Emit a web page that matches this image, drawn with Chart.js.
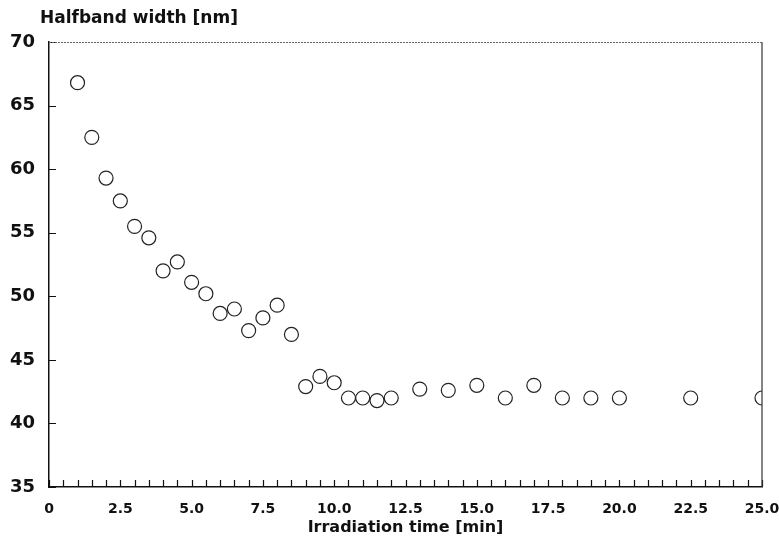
<!DOCTYPE html>
<html>
<head>
<meta charset="utf-8">
<script src="https://cdn.jsdelivr.net/npm/chart.js@4/dist/chart.umd.min.js"></script>
<style>
  html, body { margin: 0; padding: 0; background: #fff; }
  #wrap { width: 779px; height: 546px; }
</style>
</head>
<body>
<div id="wrap"><canvas id="chart" width="779" height="546"></canvas></div>
<script>
// irradiation time [min]
const times = [1, 1.5, 2, 2.5, 3, 3.5, 4, 4.5, 5, 5.5, 6, 6.5, 7, 7.5, 8, 8.5,
  9, 9.5, 10, 10.5, 11, 11.5, 12, 13, 14, 15, 16, 17, 18, 19, 20, 22.5, 25];
// halfband width [nm]
const widths = [66.8, 62.5, 59.3, 57.5, 55.5, 54.6, 52.0, 52.7, 51.1, 50.2, 48.65, 49.0,
  47.3, 48.3, 49.3, 47.0, 42.9, 43.7, 43.2, 42.0, 42.0, 41.8, 42.0, 42.7, 42.6, 43.0,
  42.0, 43.0, 42.0, 42.0, 42.0, 42.0, 42.0];
const yTitle = "Halfband width [nm]";
const xTitle = "Irradiation time [min]";

const ink = "#111";
const fontFamily = "'DejaVu Sans', Verdana, sans-serif";

// inward tick marks, top/right frame and the y-axis caption
const framePlugin = {
  id: "frame",
  afterDraw(chart) {
    const { ctx, chartArea: a, scales } = chart;
    ctx.save();
    ctx.strokeStyle = ink;
    ctx.lineWidth = 1.2;
    ctx.beginPath();
    scales.x.ticks.forEach((t) => {
      const px = Math.round(scales.x.getPixelForValue(t.value)) + 0.5;
      ctx.moveTo(px, a.bottom);
      ctx.lineTo(px, a.bottom - 7);
    });
    scales.y.ticks.forEach((t) => {
      const py = Math.round(scales.y.getPixelForValue(t.value)) + 0.5;
      ctx.moveTo(a.left, py);
      ctx.lineTo(a.left + 7, py);
    });
    ctx.stroke();

    // right border
    ctx.strokeStyle = "#333";
    ctx.beginPath();
    ctx.moveTo(a.right, a.top);
    ctx.lineTo(a.right, a.bottom);
    ctx.stroke();

    // top border, faint and dotted
    ctx.strokeStyle = "#666";
    ctx.lineWidth = 1;
    ctx.setLineDash([2, 1]);
    ctx.beginPath();
    ctx.moveTo(a.left, a.top + 0.5);
    ctx.lineTo(a.right, a.top + 0.5);
    ctx.stroke();
    ctx.setLineDash([]);

    ctx.fillStyle = ink;
    ctx.font = "bold 17px " + fontFamily;
    ctx.textBaseline = "middle";
    ctx.textAlign = "left";
    ctx.fillText(yTitle, 40, 19);
    ctx.restore();
  },
};

new Chart(document.getElementById("chart"), {
  type: "scatter",
  data: {
    datasets: [
      {
        data: times.map((t, i) => ({ x: t, y: widths[i] })),
        pointRadius: 7,
        pointHoverRadius: 7,
        pointBorderWidth: 1.2,
        pointBorderColor: "#222",
        pointBackgroundColor: "rgba(255,255,255,0)",
      },
    ],
  },
  options: {
    responsive: false,
    animation: false,
    layout: { padding: { top: 42, right: 17, left: 0, bottom: 0 } },
    plugins: {
      legend: { display: false },
      tooltip: { enabled: false },
    },
    scales: {
      x: {
        type: "linear",
        min: 0,
        max: 25,
        afterFit: (scale) => {
          scale.height = 59;
          scale.paddingLeft = 0;
          scale.paddingRight = 0;
        },
        grid: { display: false },
        border: { display: true, color: ink, width: 1.5 },
        ticks: {
          stepSize: 0.5,
          autoSkip: false,
          maxRotation: 0,
          padding: 6,
          color: ink,
          font: { family: fontFamily, size: 14, weight: "bold" },
          callback: (v) => {
            if (Math.abs(v / 2.5 - Math.round(v / 2.5)) > 1e-6) return "";
            return v === 0 ? "0" : v.toFixed(1);
          },
        },
        title: {
          display: true,
          text: xTitle,
          color: ink,
          padding: { top: 0, bottom: 9 },
          font: { family: fontFamily, size: 16, weight: "bold" },
        },
      },
      y: {
        min: 35,
        max: 70,
        afterFit: (scale) => { scale.width = 49; },
        grid: { display: false },
        border: { display: true, color: ink, width: 1.5 },
        ticks: {
          stepSize: 5,
          padding: 6,
          color: ink,
          font: { family: fontFamily, size: 18, weight: "bold" },
        },
      },
    },
  },
  plugins: [framePlugin],
});
</script>
</body>
</html>
